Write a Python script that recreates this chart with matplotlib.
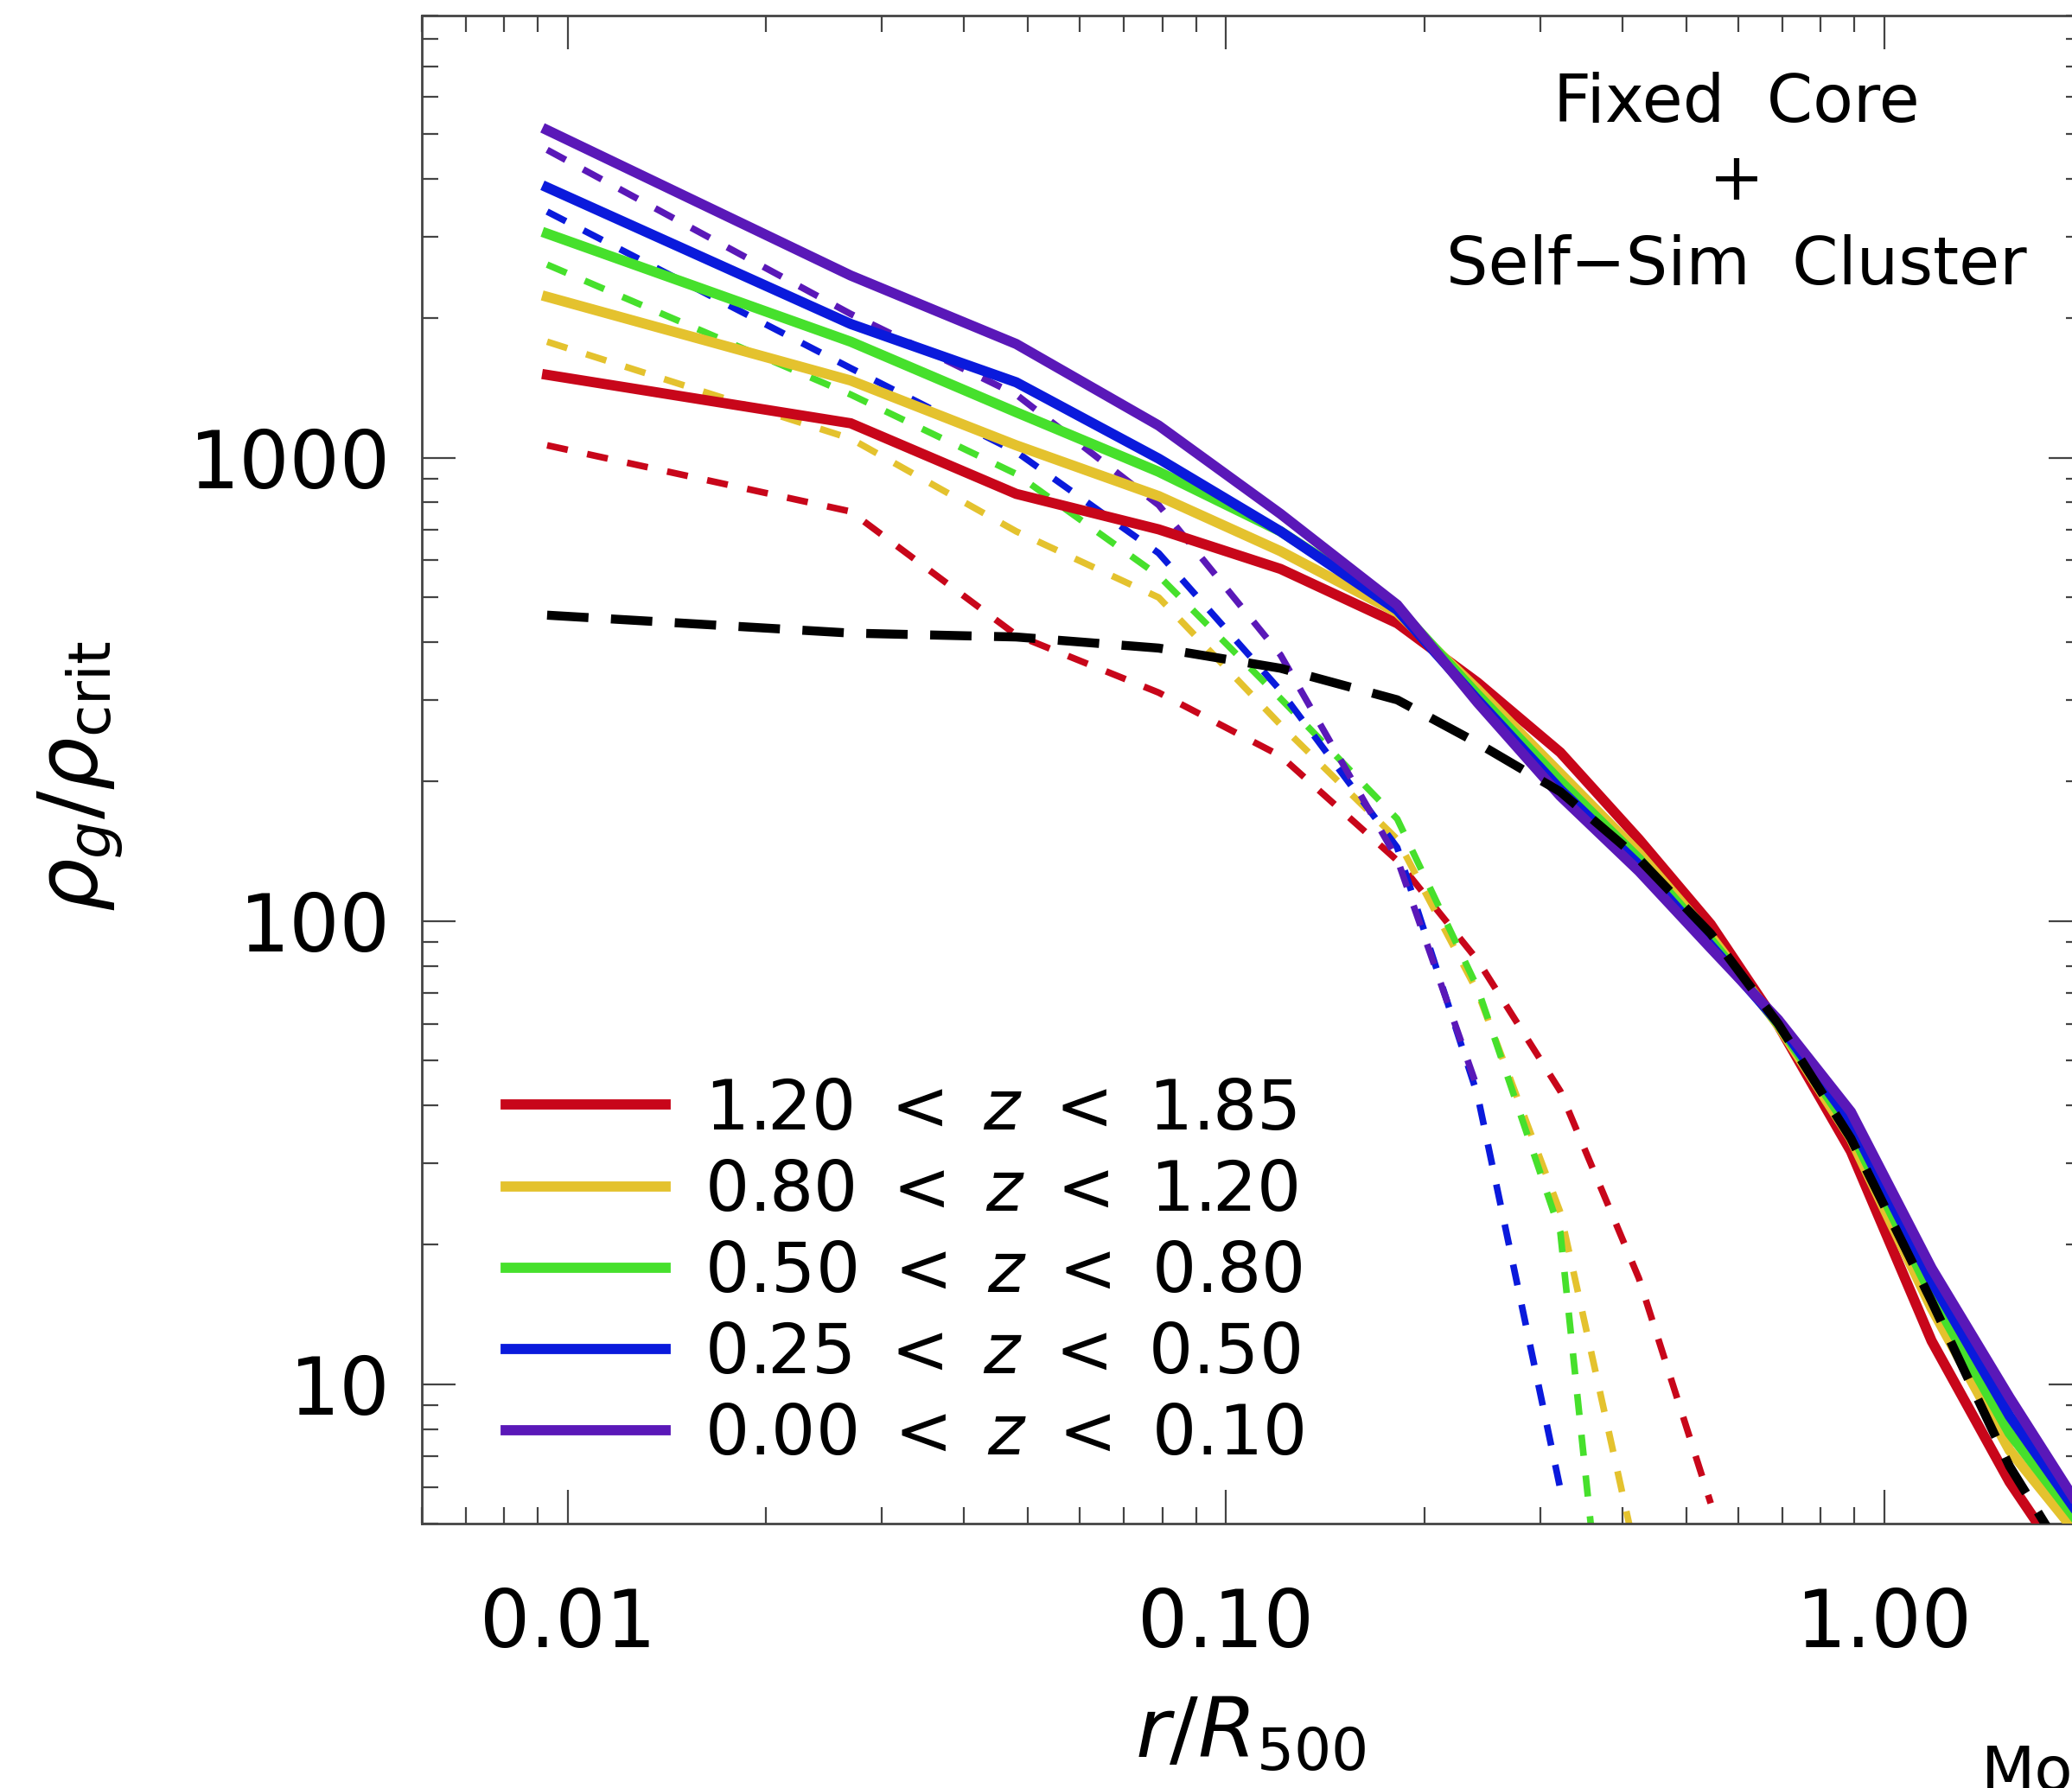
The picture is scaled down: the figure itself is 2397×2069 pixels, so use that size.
import numpy as np
import matplotlib
matplotlib.use("Agg")
import matplotlib.pyplot as plt
from matplotlib.lines import Line2D

plt.rcParams['font.family'] = ['DejaVu Sans']
plt.rcParams['mathtext.fontset'] = 'dejavusans'

# ---------------- data ----------------
r = [0.0093, 0.0269, 0.048, 0.079, 0.121, 0.182, 0.241, 0.322, 0.424, 0.545,
     0.69, 0.89, 1.18, 1.55, 2.0]

# solid: cluster profiles per redshift bin
solid_z000 = [5094, 2472, 1759, 1173, 756, 481, 296, 186, 128, 87.3, 61.2, 38.7, 17.8, 9.36, 5.3]
solid_z025 = [3831, 1943, 1454, 995, 693, 469, 300, 192, 132, 88.5, 60.4, 36.7, 16.7, 8.54, 5.1]
solid_z050 = [3045, 1779, 1253, 932, 693, 475, 308, 200, 136, 90.8, 60.0, 35.3, 15.6, 7.84, 4.9]
solid_z080 = [2224, 1467, 1063, 826, 628, 463, 316, 208, 140, 92.6, 59.6, 33.9, 14.6, 7.2, 4.6]
solid_z120 = [1509, 1186, 835, 700, 575, 439, 327, 231, 150, 98.3, 59.6, 31.8, 12.4, 6.15, 3.6]

# dashed: fixed core profiles per redshift bin
dash_z000 = [4617, 2042, 1368, 790, 375, 136, 43.5]
dash_z025 = [3397, 1560, 1029, 622, 314, 144, 42.1, 5.94]
dash_z050 = [2610, 1368, 922, 556, 302, 166, 71.7, 21.3, 0.5]
dash_z080 = [1779, 1099, 693, 499, 265, 150, 70.3, 23.5, 4.0]
dash_z120 = [1063, 765, 414, 311, 227, 135, 82.3, 42.9, 16.9, 5.53]

# black dashed: self-similar cluster model
model = [457, 418, 410, 388, 351, 300, 242, 190, 136, 93.8, 60.0, 33.9, 15.1, 6.65, 3.7]

sp = "\u2002"
labels = [f"1.20{sp}<{sp}$z${sp}<{sp}1.85", f"0.80{sp}<{sp}$z${sp}<{sp}1.20",
          f"0.50{sp}<{sp}$z${sp}<{sp}0.80", f"0.25{sp}<{sp}$z${sp}<{sp}0.50",
          f"0.00{sp}<{sp}$z${sp}<{sp}0.10"]
colors = ["#C8061A", "#E4C22E", "#46E02C", "#0A1ADC", "#5A18B8"]

xticks = [0.01, 0.1, 1.0]
xticklabels = ["0.01", "0.10", "1.00"]
yticks = [10, 100, 1000]
yticklabels = ["10", "100", "1000"]

# ---------------- figure ----------------
W, H = 2397, 2069
fig = plt.figure(figsize=(W / 100, H / 100), dpi=100)
ax = fig.add_axes([488 / W, 1 - 1763 / H, (2409 - 488) / W, (1763 - 18) / H])
ax.set_xscale("log")
ax.set_yscale("log")
ax.set_xlim(0.006, 2.0)
ax.set_ylim(5, 9000)

solids = [solid_z120, solid_z080, solid_z050, solid_z025, solid_z000]
dashes = [dash_z120, dash_z080, dash_z050, dash_z025, dash_z000]

for d, c in zip(dashes, colors):
    ax.plot(r[:len(d)], d, color=c, lw=5.5, linestyle=(0, (3.2, 3.0)),
            solid_capstyle="butt", dash_capstyle="butt", zorder=2)
for s, c in zip(solids, colors):
    ax.plot(r[:len(s)], s, color=c, lw=8.5, solid_joinstyle="miter", zorder=3)
ax.plot(r[:len(model)], model, color="black", lw=7.5, linestyle=(0, (4.6, 2.5)),
        dash_capstyle="butt", zorder=4)

# ticks
ax.set_xticks(xticks)
ax.set_xticklabels(xticklabels)
ax.set_yticks(yticks)
ax.set_yticklabels(yticklabels)
ax.tick_params(which="both", direction="in", top=True, right=True, color="#444444")
ax.tick_params(which="major", length=28, width=1.6, labelsize=66)
ax.tick_params(which="minor", length=13.5, width=1.6)
ax.tick_params(axis="x", which="major", pad=52)
ax.tick_params(axis="y", which="major", pad=26)
ax.xaxis.set_minor_formatter(matplotlib.ticker.NullFormatter())
ax.yaxis.set_minor_formatter(matplotlib.ticker.NullFormatter())
for spn in ax.spines.values():
    spn.set_linewidth(2.0)
    spn.set_color("#444444")

# legend
handles = [Line2D([], [], color=c, lw=8.5) for c in colors]
ax.legend(handles, labels, loc="upper left", bbox_to_anchor=(0.0505, 0.2965),
          frameon=False, fontsize=58, handlelength=2.3, handletextpad=0.55,
          labelspacing=0.20, borderpad=0, borderaxespad=0)

# annotation text
fig.text(2009 / W, 1 - 141 / H, "Fixed  Core", ha="center", va="baseline", fontsize=55)
fig.text(2009 / W, 1 - 210 / H, "+", ha="center", va="center", fontsize=55)
fig.text(2009 / W, 1 - 329 / H, "Self\u2212Sim  Cluster", ha="center", va="baseline", fontsize=55)

# axis labels
fig.text(93 / W, 1 - 898 / H, r"$\rho_{g}/\rho_{\mathrm{crit}}$", rotation=90,
         ha="center", va="center", fontsize=70)
fig.text(1447 / W, 1 - 2008 / H, r"$r/R_{500}$", ha="center", va="center", fontsize=70)

fig.text(2292 / W, 1 - 2018 / H, "Mo", ha="left", va="top", fontsize=52)

fig.savefig("out.png", dpi=100)
